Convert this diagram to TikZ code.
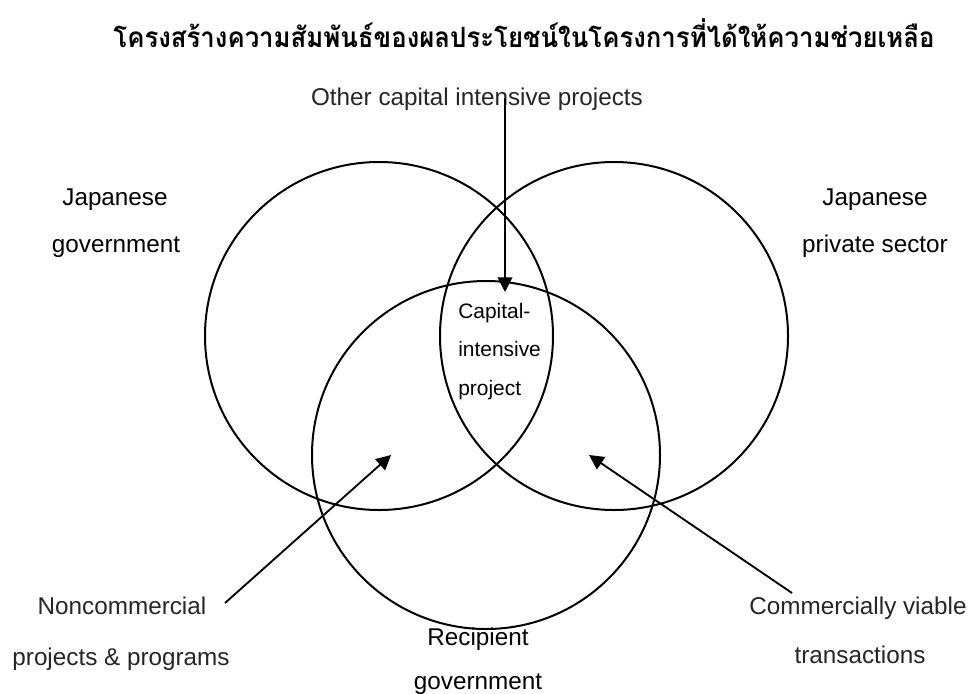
\documentclass[tikz,border=0pt]{standalone}
\usepackage{fontspec}
\setmainfont{Liberation Sans}
\newfontfamily\thaifont[Script=Thai,FakeStretch=0.92]{Loma}
\usetikzlibrary{arrows.meta}
\begin{document}
\begin{tikzpicture}[x=0.75pt,y=-0.75pt,
  venn/.style={circle,draw,line width=1.5pt,minimum size=261pt,inner sep=0pt},
  lbl/.style={font=\fontsize{18.2pt}{20pt}\selectfont,inner sep=0pt,anchor=base,text=black},
  lbllight/.style={lbl,text=black!85},
  small/.style={font=\fontsize{15.7pt}{17pt}\selectfont,inner sep=0pt,anchor=base west},
  arr/.style={line width=1.4pt,-{Triangle[length=11pt,width=11pt]}}]
\useasboundingbox[fill=white] (0,0) rectangle (974,693);
% title
\node[inner sep=0pt,anchor=base,font=\thaifont\bfseries\fontsize{21pt}{24pt}\selectfont] (title) at (524,47) {โครงสร้างความสัมพันธ์ของผลประโยชน์ในโครงการที่ได้ให้ความช่วยเหลือ};
% circles
\node[venn] (cL) at (379,336) {};
\node[venn] (cR) at (614,336) {};
\node[venn] (cB) at (486,455) {};
% labels
\node[lbllight] (other) at (477,105) {Other capital intensive projects};
\node[lbl] (jg1) at (115,205) {Japanese};
\node[lbl] (jg2) at (116,252) {government};
\node[lbl] (jp1) at (875,205) {Japanese};
\node[lbl] (jp2) at (875,252) {private sector};
\node[small] (ci1) at (458,318) {Capital-};
\node[small] (ci2) at (458,356) {intensive};
\node[small] (ci3) at (458,395) {project};
\node[lbllight] (nc1) at (122,614) {Noncommercial};
\node[lbllight] (nc2) at (121,665) {projects \& programs};
\node[lbllight] (cv1) at (858,614) {Commercially viable};
\node[lbllight] (cv2) at (860,663) {transactions};
\node[lbl] (rg1) at (478,645) {Recipient};
\node[lbl] (rg2) at (478,689) {government};
% arrows
\coordinate (a1s) at (505,98);
\coordinate (a1e) at (505,292);
\coordinate (a2s) at (225,603);
\coordinate (a2e) at (391,455);
\coordinate (a3s) at (792,593);
\coordinate (a3e) at (589,455);
\draw[arr] (a1s) -- (a1e);
\draw[arr] (a2s) -- (a2e);
\draw[arr] (a3s) -- (a3e);
\end{tikzpicture}
\end{document}
